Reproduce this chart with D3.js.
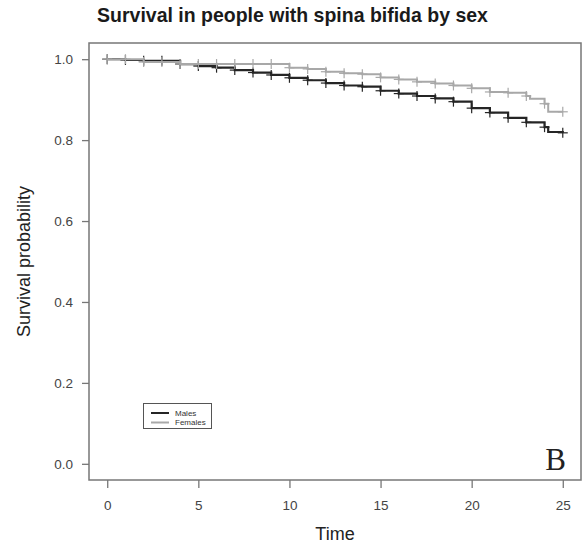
<!DOCTYPE html>
<html>
<head>
<meta charset="utf-8">
<script src="https://cdn.jsdelivr.net/npm/d3@7"></script>
<style>
  html, body { margin: 0; padding: 0; background: #fff; }
  svg { display: block; }
</style>
</head>
<body>
<svg id="chart" width="583" height="549"></svg>
<script>
// ---- data ----
const seriesNames = ["Males", "Females"];
const maleTimes = [0, 1, 2, 4, 5, 6, 7, 8, 9, 10, 11, 12, 13, 14, 15, 16, 17, 18, 19, 20, 21, 22, 23, 24, 24.2, 25];
const maleSurv  = [1.0, 0.998, 0.996, 0.988, 0.983, 0.979, 0.973, 0.967, 0.961, 0.954, 0.948, 0.941, 0.935, 0.932, 0.922, 0.915, 0.909, 0.903, 0.895, 0.879, 0.868, 0.855, 0.844, 0.832, 0.820, 0.818];
const femaleTimes = [0, 2, 4, 10, 11, 12, 13, 14, 15, 16, 17, 18, 19, 20, 21, 22, 23, 23.2, 24, 24.2, 25];
const femaleSurv  = [1.0, 0.993, 0.988, 0.979, 0.976, 0.969, 0.965, 0.963, 0.955, 0.950, 0.944, 0.940, 0.935, 0.928, 0.919, 0.917, 0.909, 0.902, 0.890, 0.870, 0.870];
const censorTimes = [0, 1, 2, 3, 4, 5, 6, 7, 8, 9, 10, 11, 12, 13, 14, 15, 16, 17, 18, 19, 20, 21, 22, 23, 24, 25];
const xTicks = [0, 5, 10, 15, 20, 25];
const yTicks = [0.0, 0.2, 0.4, 0.6, 0.8, 1.0];
const titleText = "Survival in people with spina bifida by sex";
const xLabel = "Time";
const yLabel = "Survival probability";
const panelLetter = "B";

// ---- layout ----
const svg = d3.select("#chart");
const box = { left: 89, right: 581, top: 43, bottom: 480 };
const x = d3.scaleLinear().domain([-1, 26]).range([box.left, box.right]);
const y = d3.scaleLinear().domain([-0.04, 1.04]).range([box.bottom, box.top]);
const axisColor = "#777";
const textColor = "#444";
const font = "Liberation Sans, Arial, Helvetica, sans-serif";

// title
const title = svg.append("text")
  .attr("x", 292.5).attr("y", 22)
  .attr("text-anchor", "middle")
  .attr("font-family", font).attr("font-weight", "bold")
  .attr("font-size", 16).attr("fill", "#1a1a1a")
  .text(titleText);
{
  const w = title.node().getComputedTextLength();
  title.attr("font-size", 16 * 391 / w);
}

// plot frame
svg.append("rect")
  .attr("x", box.left).attr("y", box.top)
  .attr("width", box.right - box.left).attr("height", box.bottom - box.top)
  .attr("fill", "none").attr("stroke", axisColor).attr("stroke-width", 1.5);

// x axis
const xAxis = d3.axisBottom(x).tickValues(xTicks).tickSize(8).tickPadding(12)
  .tickFormat(d3.format("d"));
const gx = svg.append("g").attr("transform", `translate(0,${box.bottom})`).call(xAxis);
gx.select(".domain").remove();
gx.selectAll("line").attr("stroke", axisColor).attr("stroke-width", 1.3);
gx.selectAll("text").attr("font-family", font).attr("font-size", 13.5).attr("fill", textColor);

// y axis
const yAxis = d3.axisLeft(y).tickValues(yTicks).tickSize(7).tickPadding(9)
  .tickFormat(d3.format(".1f"));
const gy = svg.append("g").attr("transform", `translate(${box.left},0)`).call(yAxis);
gy.select(".domain").remove();
gy.selectAll("line").attr("stroke", axisColor).attr("stroke-width", 1.3);
gy.selectAll("text").attr("font-family", font).attr("font-size", 13.5).attr("fill", textColor);

// axis titles
svg.append("text")
  .attr("x", (box.left + box.right) / 2).attr("y", 540)
  .attr("text-anchor", "middle")
  .attr("font-family", font).attr("font-size", 18).attr("fill", "#222")
  .text(xLabel);
svg.append("text")
  .attr("transform", `translate(30,${(box.top + box.bottom) / 2}) rotate(-90)`)
  .attr("text-anchor", "middle")
  .attr("font-family", font).attr("font-size", 18).attr("fill", "#222")
  .text(yLabel);

// curves
function survAt(times, surv, t) {
  let s = surv[0];
  for (let i = 0; i < times.length; i++) if (times[i] <= t + 1e-9) s = surv[i];
  return s;
}
const series = [
  { name: seriesNames[0], times: maleTimes, surv: maleSurv, color: "#252525", width: 2.2 },
  { name: seriesNames[1], times: femaleTimes, surv: femaleSurv, color: "#a8a8a8", width: 2.0 }
];
const line = d3.line().x(d => x(d[0])).y(d => y(d[1])).curve(d3.curveStepAfter);
const plot = svg.append("g");
series.forEach(s => {
  const pts = s.times.map((t, i) => [t, s.surv[i]]);
  plot.append("path")
    .attr("d", line(pts))
    .attr("fill", "none").attr("stroke", s.color).attr("stroke-width", s.width);
  const marks = plot.append("g");
  censorTimes.forEach(t => {
    const cx = x(t), cy = y(survAt(s.times, s.surv, t));
    marks.append("line").attr("x1", cx).attr("x2", cx).attr("y1", cy - 5).attr("y2", cy + 5)
      .attr("stroke", s.color).attr("stroke-width", 1.2);
    marks.append("line").attr("x1", cx - 5).attr("x2", cx + 5).attr("y1", cy).attr("y2", cy)
      .attr("stroke", s.color).attr("stroke-width", 1.2);
  });
});

// legend
const leg = svg.append("g");
leg.append("rect").attr("x", 143.5).attr("y", 403.5).attr("width", 68).attr("height", 25)
  .attr("fill", "#fff").attr("stroke", "#555").attr("stroke-width", 1);
series.forEach((s, i) => {
  const ly = 413 + i * 9.5;
  leg.append("line").attr("x1", 151).attr("x2", 169).attr("y1", ly).attr("y2", ly)
    .attr("stroke", s.color).attr("stroke-width", 2);
  leg.append("text").attr("x", 175).attr("y", ly + 2.8)
    .attr("font-family", font).attr("font-size", 8).attr("fill", "#333")
    .text(s.name);
});

// panel letter
svg.append("text")
  .attr("x", 566).attr("y", 470).attr("text-anchor", "end")
  .attr("font-family", "Liberation Serif, Times New Roman, serif")
  .attr("font-size", 31).attr("fill", "#222")
  .text(panelLetter);
</script>
</body>
</html>
